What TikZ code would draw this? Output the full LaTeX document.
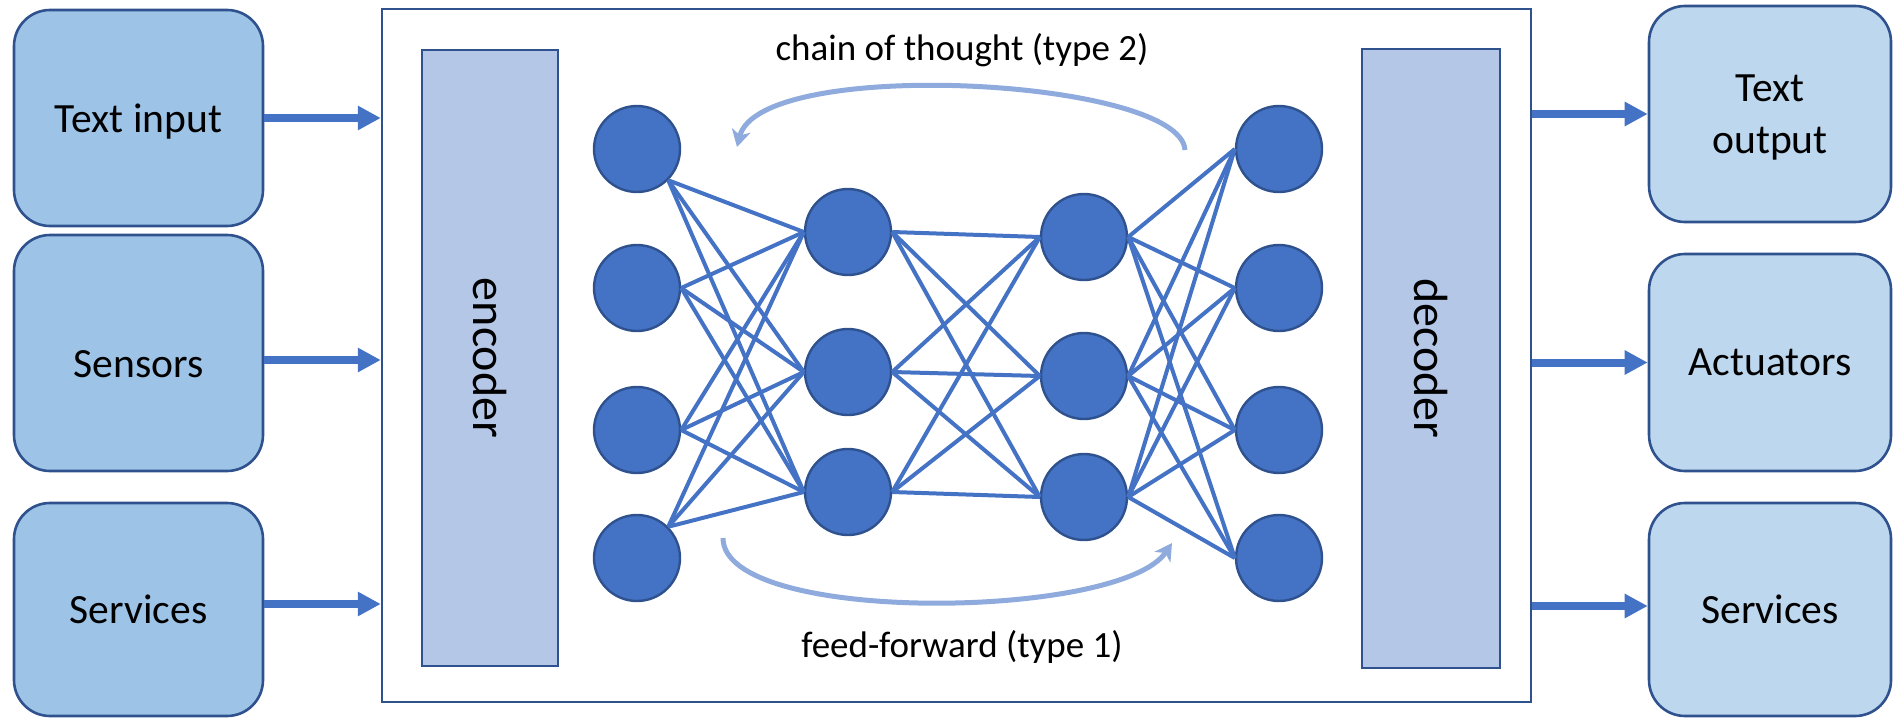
\documentclass[tikz,border=0pt]{standalone}
\usepackage{fontspec}
\setmainfont{Carlito}
\usepackage{xcolor}
\usetikzlibrary{arrows.meta}

\definecolor{rim}{HTML}{2F528F}
\definecolor{infill}{HTML}{9DC3E6}
\definecolor{outfill}{HTML}{BDD7EE}
\definecolor{codecfill}{HTML}{B4C7E7}
\definecolor{netblue}{HTML}{4472C4}
\definecolor{loopblue}{HTML}{8FAADC}

\begin{document}
\begin{tikzpicture}[x=0.5pt,y=-0.5pt,
    iobox/.style={draw=rim,line width=1.3pt,rounded corners=18pt,minimum width=124.5pt,
      minimum height=108pt,inner sep=0pt,align=center,text depth=0pt,
      font=\fontsize{20.8}{26}\selectfont},
    codec/.style={draw=rim,line width=1.2pt,fill=codecfill,rotate=-90,inner sep=0pt,
      minimum width=308pt,minimum height=68pt,font=\fontsize{24}{28}\selectfont},
    neuron/.style={circle,draw=rim,line width=1.2pt,fill=netblue,minimum size=43pt,inner sep=0pt},
    wire/.style={netblue,line width=2pt},
    feed/.style={netblue,line width=4pt,-{Triangle[length=11.5pt,width=11.5pt]}},
    loopback/.style={loopblue,line width=2.5pt,-{Stealth[length=8.5pt,width=9.5pt,inset=2.5pt]}},
    note/.style={font=\fontsize{18.5}{22}\selectfont}]
  \useasboundingbox (0,0) rectangle (1893,717);

  \node[draw=rim,line width=1.2pt,minimum width=574.5pt,minimum height=346.5pt] (core) at (956.5,355.5) {};
  \node[codec] (enc) at (490,358) {encoder};
  \node[codec,minimum width=309.5pt,minimum height=69pt] (dec) at (1431,358.5) {decoder};

  \node[iobox,fill=infill] (txtin) at (138.5,118) {Text input};
  \node[iobox,fill=infill,minimum height=118pt,text height=24pt] (sens) at (138.5,353) {Sensors};
  \node[iobox,fill=infill,minimum height=106.5pt] (srvin) at (138.5,609.5) {Services};
  \node[iobox,fill=outfill,minimum width=121pt] (txtout) at (1770,114) {Text\\output};
  \node[iobox,fill=outfill,minimum width=121pt,minimum height=108.5pt] (act) at (1770,362.5) {Actuators};
  \node[iobox,fill=outfill,minimum width=121pt,minimum height=106.5pt] (srvout) at (1770,609.5) {Services};

  \draw[feed] (txtin.east) -- (txtin.east -| core.west);
  \draw[feed] (sens.east |- 0,360) -- (core.west |- 0,360);
  \draw[feed] (srvin.east |- 0,604) -- (core.west |- 0,604);
  \draw[feed] (core.east |- txtout) -- (txtout.west);
  \draw[feed] (core.east |- act) -- (act.west);
  \draw[feed] (core.east |- 0,606) -- (srvout.west |- 0,606);

  % layers of the network
  \foreach \y [count=\i] in {149,288,430,558} {
    \node[neuron] (a\i) at (637,\y) {};
    \node[neuron] (d\i) at (1279,\y) {};
  }
  \foreach \y [count=\i] in {232,372,492} \node[neuron] (b\i) at (848,\y) {};
  \foreach \y [count=\i] in {237,376,497} \node[neuron] (c\i) at (1084,\y) {};

  \foreach \i/\side in {1/south east,2/east,3/east,4/north east}
    \foreach \j in {1,2,3} \draw[wire] (a\i.\side) -- (b\j.west);
  \foreach \i in {1,2,3} \foreach \j in {1,2,3} \draw[wire] (b\i.east) -- (c\j.west);
  \foreach \i in {1,2,3} \foreach \j in {1,2,3,4} \draw[wire] (c\i.east) -- (d\j.west);

  \coordinate (cotA) at (1185,150);
  \coordinate (cotB) at (737,147);
  \draw[loopback] (cotA) .. controls (1180,78) and (760,56) .. (cotB);
  \coordinate (ffA) at (723,538);
  \coordinate (ffB) at (1172,543);
  \draw[loopback] (ffA) .. controls (723,625) and (1120,620) .. (ffB);

  \node[note] (cot) at (962,50) {chain of thought (type 2)};
  \node[note] (ff) at (962,647) {feed-forward (type 1)};
\end{tikzpicture}
\end{document}
